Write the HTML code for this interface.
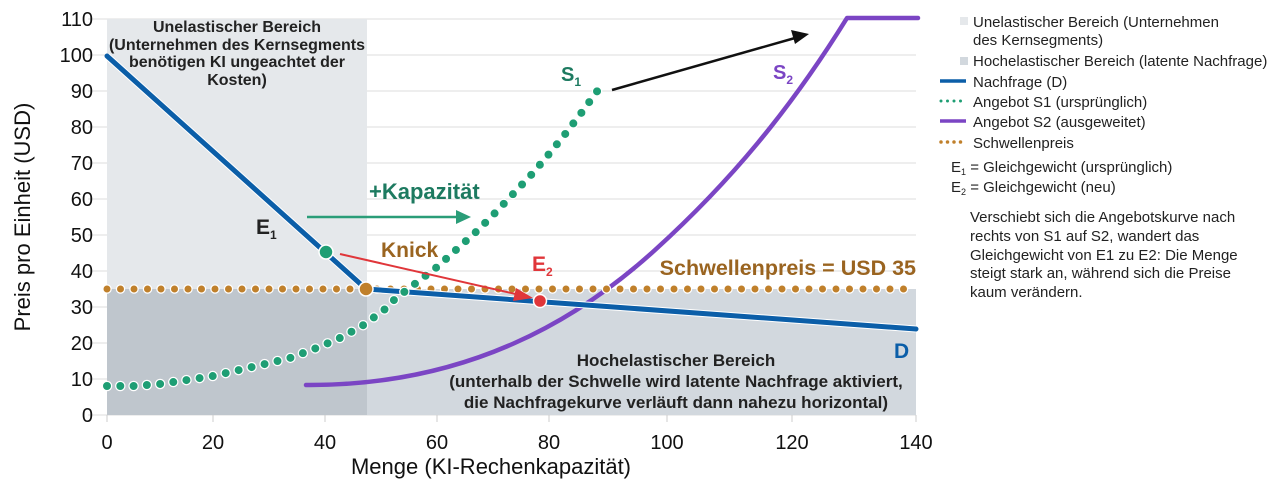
<!DOCTYPE html>
<html><head><meta charset="utf-8"><style>
html,body{margin:0;padding:0;background:#fff;}
svg{display:block;font-family:"Liberation Sans",Arial,sans-serif;}
</style></head><body>
<svg width="1280" height="486" viewBox="0 0 1280 486" xmlns="http://www.w3.org/2000/svg">
<g stroke="#dcdcdc" stroke-width="1">
<line x1="88" y1="19" x2="916" y2="19"/><line x1="88" y1="55" x2="916" y2="55"/><line x1="88" y1="91" x2="916" y2="91"/><line x1="88" y1="127" x2="916" y2="127"/><line x1="88" y1="163" x2="916" y2="163"/><line x1="88" y1="199" x2="916" y2="199"/><line x1="88" y1="235" x2="916" y2="235"/><line x1="88" y1="271" x2="916" y2="271"/><line x1="88" y1="307" x2="916" y2="307"/><line x1="88" y1="343" x2="916" y2="343"/><line x1="88" y1="379" x2="916" y2="379"/><line x1="88" y1="415" x2="916" y2="415"/>
</g>
<rect x="107" y="19" width="260" height="270" fill="#e5e8eb"/>
<rect x="107" y="289" width="260" height="126" fill="#bfc6cd"/>
<rect x="367" y="289" width="549" height="126" fill="#d2d8de"/>
<g stroke="#ccc" stroke-width="1">
<line x1="107" y1="415" x2="107" y2="422"/><line x1="213" y1="415" x2="213" y2="422"/><line x1="325" y1="415" x2="325" y2="422"/><line x1="437" y1="415" x2="437" y2="422"/><line x1="549" y1="415" x2="549" y2="422"/><line x1="667" y1="415" x2="667" y2="422"/><line x1="792" y1="415" x2="792" y2="422"/><line x1="916" y1="415" x2="916" y2="422"/>
</g>
<g font-size="20" fill="#111" text-anchor="middle">
<text x="107" y="449">0</text><text x="213" y="449">20</text><text x="325" y="449">40</text><text x="437" y="449">60</text><text x="549" y="449">80</text><text x="667" y="449">100</text><text x="792" y="449">120</text><text x="916" y="449">140</text>
</g>
<g font-size="20" fill="#111" text-anchor="end">
<text x="93" y="26">110</text><text x="93" y="62">100</text><text x="93" y="98">90</text><text x="93" y="134">80</text><text x="93" y="170">70</text><text x="93" y="206">60</text><text x="93" y="242">50</text><text x="93" y="278">40</text><text x="93" y="314">30</text><text x="93" y="350">20</text><text x="93" y="386">10</text><text x="93" y="422">0</text>
</g>
<text x="491" y="474" font-size="22" text-anchor="middle" fill="#111">Menge (KI-Rechenkapazität)</text>
<text transform="translate(30,217) rotate(-90)" font-size="22" text-anchor="middle" fill="#111">Preis pro Einheit (USD)</text>
<g font-size="16" font-weight="bold" fill="#222" text-anchor="middle">
<text x="237" y="32">Unelastischer Bereich</text>
<text x="237" y="50">(Unternehmen des Kernsegments</text>
<text x="237" y="67">benötigen KI ungeachtet der</text>
<text x="237" y="85">Kosten)</text>
</g>
<g font-size="17" font-weight="bold" fill="#222" text-anchor="middle">
<text x="676" y="366">Hochelastischer Bereich</text>
<text x="676" y="387">(unterhalb der Schwelle wird latente Nachfrage aktiviert,</text>
<text x="676" y="408">die Nachfragekurve verläuft dann nahezu horizontal)</text>
</g>
<path d="M306,385 C470,386 580,318 655,250 S790,110 847,18 L918,18" fill="none" stroke="#7b45c4" stroke-width="4.5" stroke-linejoin="round" stroke-linecap="round"/>
<line x1="107" y1="289" x2="916" y2="289" stroke="#fff" stroke-width="9.5" stroke-dasharray="0 13.5" stroke-linecap="round"/>
<line x1="107" y1="289" x2="916" y2="289" stroke="#c0802b" stroke-width="7" stroke-dasharray="0 13.5" stroke-linecap="round"/>
<polyline points="107,56 366,289 916,329" fill="none" stroke="#fff" stroke-width="7" stroke-linejoin="round"/>
<polyline points="107,56 366,289 916,329" fill="none" stroke="#0b5ea8" stroke-width="5" stroke-linejoin="round" stroke-linecap="round"/>
<polyline points="107,386 134,386 160,384 187,380 213,376 239,370 265,364 290,358 314,349 338,339 362,326 384,310 395,299 416,283 437,267 457,249 477,231 496,212 514,193 532,174 549,154 566,133 582,112 598,90" fill="none" stroke="#fff" stroke-width="10.5" stroke-dasharray="0 13.3" stroke-linecap="round" stroke-linejoin="round"/>
<polyline points="107,386 134,386 160,384 187,380 213,376 239,370 265,364 290,358 314,349 338,339 362,326 384,310 395,299 416,283 437,267 457,249 477,231 496,212 514,193 532,174 549,154 566,133 582,112 598,90" fill="none" stroke="#1e9e74" stroke-width="8" stroke-dasharray="0 13.3" stroke-linecap="round" stroke-linejoin="round"/>
<line x1="307" y1="217" x2="458" y2="217" stroke="#2a9d78" stroke-width="2.5"/>
<polygon points="471,217 456,210 456,224" fill="#2a9d78"/>
<line x1="340" y1="254" x2="520" y2="295" stroke="#e0363a" stroke-width="2"/>
<polygon points="533,298 516,288 513,301" fill="#e0363a"/>
<line x1="612" y1="90" x2="795" y2="38" stroke="#111" stroke-width="2.5"/>
<polygon points="809,34 791,30 795,44" fill="#111"/>
<circle cx="326" cy="252" r="7" fill="#1e9e74" stroke="#fff" stroke-width="1.5"/>
<circle cx="366" cy="289" r="7" fill="#c0802b" stroke="#fff" stroke-width="1.5"/>
<circle cx="540" cy="301" r="6.5" fill="#e0363a" stroke="#fff" stroke-width="1.5"/>
<text x="256" y="234" font-size="21" font-weight="bold" fill="#222">E<tspan font-size="12" dy="5">1</tspan></text>
<text x="369" y="199" font-size="22" font-weight="bold" fill="#1d7a60">+Kapazität</text>
<text x="381" y="257" font-size="21" font-weight="bold" fill="#9a6420">Knick</text>
<text x="532" y="271" font-size="21" font-weight="bold" fill="#e0363a">E<tspan font-size="12" dy="5">2</tspan></text>
<text x="561" y="81" font-size="20" font-weight="bold" fill="#1d7a60">S<tspan font-size="12" dy="5">1</tspan></text>
<text x="773" y="79" font-size="20" font-weight="bold" fill="#7b45c4">S<tspan font-size="12" dy="5">2</tspan></text>
<text x="916" y="275" font-size="21.5" font-weight="bold" fill="#9a6420" text-anchor="end">Schwellenpreis = USD 35</text>
<text x="894" y="358" font-size="21" font-weight="bold" fill="#0b5ea8">D</text>
<rect x="960" y="17" width="8" height="8" fill="#e5e8eb"/>
<rect x="960" y="57" width="8" height="8" fill="#d2d8de"/>
<line x1="940" y1="81" x2="966" y2="81" stroke="#0b5ea8" stroke-width="3.5"/>
<line x1="941" y1="101" x2="967" y2="101" stroke="#1e9e74" stroke-width="3" stroke-dasharray="0 6.5" stroke-linecap="round"/>
<line x1="940" y1="121" x2="966" y2="121" stroke="#7b45c4" stroke-width="3.5"/>
<line x1="941" y1="142" x2="967" y2="142" stroke="#c0802b" stroke-width="3.5" stroke-dasharray="0 6.5" stroke-linecap="round"/>
<g font-size="15" fill="#222">
<text x="973" y="27">Unelastischer Bereich (Unternehmen</text>
<text x="973" y="45">des Kernsegments)</text>
<text x="973" y="66">Hochelastischer Bereich (latente Nachfrage)</text>
<text x="973" y="87">Nachfrage (D)</text>
<text x="973" y="107">Angebot S1 (ursprünglich)</text>
<text x="973" y="127">Angebot S2 (ausgeweitet)</text>
<text x="973" y="148">Schwellenpreis</text>
<text x="951" y="172">E<tspan font-size="9" dy="3">1</tspan><tspan dy="-3"> = Gleichgewicht (ursprünglich)</tspan></text>
<text x="951" y="192">E<tspan font-size="9" dy="3">2</tspan><tspan dy="-3"> = Gleichgewicht (neu)</tspan></text>
<text x="970" y="222">Verschiebt sich die Angebotskurve nach</text>
<text x="970" y="241">rechts von S1 auf S2, wandert das</text>
<text x="970" y="260">Gleichgewicht von E1 zu E2: Die Menge</text>
<text x="970" y="278">steigt stark an, während sich die Preise</text>
<text x="970" y="297">kaum verändern.</text>
</g>
</svg>
</body></html>
